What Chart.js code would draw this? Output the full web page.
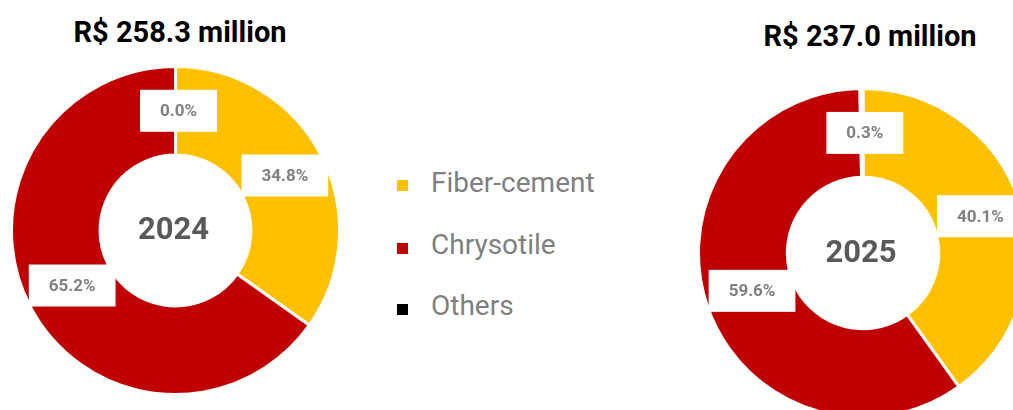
<!DOCTYPE html>
<html>
<head>
<meta charset="utf-8">
<script src="https://cdn.jsdelivr.net/npm/chart.js@4.4.1/dist/chart.umd.min.js"></script>
<style>
  html, body { margin: 0; padding: 0; background: #fff; }
  body { width: 1013px; height: 410px; position: relative; overflow: hidden; font-family: Roboto, "Noto Sans", sans-serif; }
  .title { position: absolute; width: 360px; text-align: center; font-weight: bold; font-size: 29px; line-height: 29px; color: #000; white-space: nowrap; }
  .box { position: absolute; }
  .legend-row { position: absolute; left: 397px; height: 28px; }
  .legend-row .sw { position: absolute; left: 0; width: 11px; height: 11px; }
  .legend-row .tx { position: absolute; left: 34px; top: 0; font-size: 28px; line-height: 28px; color: #7f7f7f; white-space: nowrap; }
</style>
</head>
<body>
<div class="title" id="title0" style="left:0px; top:18px;"></div>
<div class="title" id="title1" style="left:690px; top:22px;"></div>
<div class="box" style="left:10px; top:65px;"><canvas id="pie2024" width="331" height="331"></canvas></div>
<div class="box" style="left:697px; top:87px;"><canvas id="pie2025" width="332" height="332"></canvas></div>
<div id="legend"></div>
<script>
// chart data
const categories = ["Fiber-cement", "Chrysotile", "Others"];
const years = ["2024", "2025"];
const totals = ["R$ 258.3 million", "R$ 237.0 million"];
const share2024 = [34.8, 65.2, 0.0];
const share2025 = [40.1, 59.6, 0.3];
const legendColors = ["#FFC000", "#C00000", "#000000"];
// the tiny "Others" slice shows up as a white gap in the original
const arcColors = ["#FFC000", "#C00000", "#FFFFFF"];

document.getElementById("title0").textContent = totals[0];
document.getElementById("title1").textContent = totals[1];

// legend on the middle
const legend = document.getElementById("legend");
categories.forEach(function (name, i) {
  const row = document.createElement("div");
  row.className = "legend-row";
  row.style.top = Math.round(169 + i * 61.5) + "px";
  row.innerHTML = '<div class="sw" style="top:' + (11 + (i > 0 ? 1 : 0)) + 'px;background:' + legendColors[i] + '"></div>' +
    '<div class="tx">' + name + '</div>';
  legend.appendChild(row);
});

// labels in white boxes + year in the hole
const labelPlugin = {
  id: "sliceLabels",
  afterDatasetsDraw(chart) {
    const ctx = chart.ctx;
    const meta = chart.getDatasetMeta(0);
    const values = chart.data.datasets[0].data;
    ctx.save();
    ctx.font = "bold 17px Roboto";
    ctx.textAlign = "center";
    ctx.textBaseline = "middle";
    meta.data.forEach(function (arc, i) {
      const p = arc.getCenterPoint();
      const txt = values[i].toFixed(1) + "%";
      const w = ctx.measureText(txt).width + 40;
      const h = 42;
      const x = p.x + 3;
      const y = p.y;
      ctx.fillStyle = "#ffffff";
      ctx.fillRect(x - w / 2, y - h / 2, w, h);
      ctx.fillStyle = "#7f7f7f";
      ctx.fillText(txt, x, y + 1);
    });
    const c = meta.data[0];
    ctx.font = "bold 31px Roboto";
    ctx.fillStyle = "#595959";
    ctx.fillText(chart.options.plugins.centerYear, c.x - 2, c.y + 1);
    ctx.restore();
  }
};

function makeDonut(id, values, year) {
  const ctx = document.getElementById(id).getContext("2d");
  return new Chart(ctx, {
    type: "doughnut",
    data: {
      labels: categories,
      datasets: [
        {
          data: values,
          backgroundColor: arcColors,
          borderColor: "#ffffff",
          borderWidth: 3,
        },
      ],
    },
    options: {
      responsive: false,
      animation: false,
      cutout: "46%",
      layout: { padding: 0 },
      plugins: {
        legend: { display: false },
        tooltip: { enabled: false },
        centerYear: year,
      },
    },
    plugins: [labelPlugin],
  });
}

makeDonut("pie2024", share2024, years[0]);
makeDonut("pie2025", share2025, years[1]);
</script>
</body>
</html>
